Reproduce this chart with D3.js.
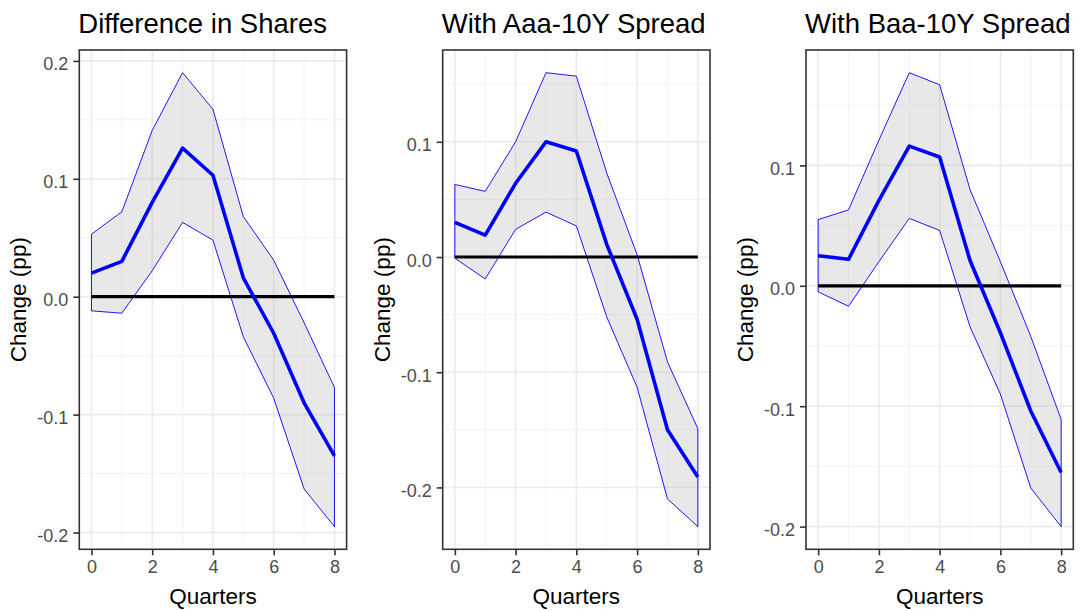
<!DOCTYPE html>
<html>
<head>
<meta charset="utf-8">
<script src="https://cdn.jsdelivr.net/npm/d3@7"></script>
<style>
  html, body { margin: 0; padding: 0; background: #fff; }
  svg { display: block; font-family: "Liberation Sans", Arial, sans-serif; }
</style>
</head>
<body>
<svg id="chart" width="1083" height="611"></svg>
<script>
// Impulse responses over 8 quarters, with confidence bands, for three specifications
const quarters = [0, 1, 2, 3, 4, 5, 6, 7, 8];
const xTicks = [0, 2, 4, 6, 8];

const titles = ["Difference in Shares", "With Aaa-10Y Spread", "With Baa-10Y Spread"];

const sharesMean  = [0.020, 0.030, 0.080, 0.126, 0.103, 0.016, -0.031, -0.090, -0.135];
const sharesUpper = [0.053, 0.072, 0.141, 0.190, 0.159, 0.068, 0.031, -0.022, -0.077];
const sharesLower = [-0.012, -0.014, 0.022, 0.063, 0.048, -0.034, -0.086, -0.163, -0.195];

const aaaMean  = [0.030, 0.019, 0.064, 0.100, 0.092, 0.011, -0.054, -0.150, -0.191];
const aaaUpper = [0.063, 0.057, 0.100, 0.160, 0.157, 0.073, 0.002, -0.091, -0.149];
const aaaLower = [-0.001, -0.019, 0.024, 0.039, 0.027, -0.052, -0.113, -0.210, -0.234];

const baaMean  = [0.025, 0.022, 0.071, 0.116, 0.107, 0.021, -0.039, -0.104, -0.155];
const baaUpper = [0.055, 0.063, 0.121, 0.177, 0.167, 0.080, 0.020, -0.042, -0.111];
const baaLower = [-0.005, -0.017, 0.020, 0.056, 0.046, -0.034, -0.090, -0.168, -0.200];

const yTicks = [
  [-0.2, -0.1, 0.0, 0.1, 0.2],
  [-0.2, -0.1, 0.0, 0.1],
  [-0.2, -0.1, 0.0, 0.1]
];

const panels = [
  { title: titles[0], mean: sharesMean, upper: sharesUpper, lower: sharesLower, ticks: yTicks[0] },
  { title: titles[1], mean: aaaMean,    upper: aaaUpper,    lower: aaaLower,    ticks: yTicks[1] },
  { title: titles[2], mean: baaMean,    upper: baaUpper,    lower: baaLower,    ticks: yTicks[2] }
];

// layout of the three plot panels
const panelLeft = [79.3, 442.7, 806];
const panelWidth = 267.3;
const panelTop = 50;
const panelBottom = 549.3;

const svg = d3.select("#chart");
const tickFont = 18, axisFont = 22.5, titleFont = 27.5;
const tickColor = "#4D4D4D";

panels.forEach((p, i) => {
  const x0 = panelLeft[i];
  const g = svg.append("g");

  // x scale with 5% expansion on each side
  const xPad = (d3.max(quarters) - d3.min(quarters)) * 0.05;
  const x = d3.scaleLinear()
    .domain([d3.min(quarters) - xPad, d3.max(quarters) + xPad])
    .range([x0, x0 + panelWidth]);

  const all = p.upper.concat(p.lower, p.mean, [0]);
  const lo = d3.min(all), hi = d3.max(all);
  const yPad = (hi - lo) * 0.05;
  const y = d3.scaleLinear()
    .domain([lo - yPad, hi + yPad])
    .range([panelBottom, panelTop]);

  // clip to the panel
  const clipId = "clip" + i;
  svg.append("clipPath").attr("id", clipId)
    .append("rect").attr("x", x0).attr("y", panelTop)
    .attr("width", panelWidth).attr("height", panelBottom - panelTop);

  const plot = g.append("g").attr("clip-path", `url(#${clipId})`);

  // minor grid
  const minorX = d3.range(1, 8, 2);
  const minorY = [];
  for (let k = 0; k < p.ticks.length - 1; k++) minorY.push((p.ticks[k] + p.ticks[k + 1]) / 2);
  const step = p.ticks[1] - p.ticks[0];
  minorY.push(p.ticks[0] - step / 2, p.ticks[p.ticks.length - 1] + step / 2);

  plot.selectAll(".minx").data(minorX).join("line")
    .attr("x1", d => x(d)).attr("x2", d => x(d))
    .attr("y1", panelTop).attr("y2", panelBottom)
    .attr("stroke", "#F2F2F2").attr("stroke-width", 0.9);
  plot.selectAll(".miny").data(minorY).join("line")
    .attr("y1", d => y(d)).attr("y2", d => y(d))
    .attr("x1", x0).attr("x2", x0 + panelWidth)
    .attr("stroke", "#F2F2F2").attr("stroke-width", 0.9);

  // major grid
  plot.selectAll(".majx").data(xTicks).join("line")
    .attr("x1", d => x(d)).attr("x2", d => x(d))
    .attr("y1", panelTop).attr("y2", panelBottom)
    .attr("stroke", "#EBEBEB").attr("stroke-width", 1.6);
  plot.selectAll(".majy").data(p.ticks).join("line")
    .attr("y1", d => y(d)).attr("y2", d => y(d))
    .attr("x1", x0).attr("x2", x0 + panelWidth)
    .attr("stroke", "#EBEBEB").attr("stroke-width", 1.6);

  // confidence band
  const band = quarters.map((q, k) => ({ q, lo: p.lower[k], hi: p.upper[k] }));
  const area = d3.area().x(d => x(d.q)).y0(d => y(d.lo)).y1(d => y(d.hi));
  plot.append("path").datum(band)
    .attr("d", area(band) + "Z")
    .attr("fill", "#B3B3B3").attr("fill-opacity", 0.3)
    .attr("stroke", "#0000FF").attr("stroke-width", 0.9)
    .attr("stroke-linejoin", "round");

  // zero line
  plot.append("line")
    .attr("x1", x(0)).attr("x2", x(8))
    .attr("y1", y(0)).attr("y2", y(0))
    .attr("stroke", "#000").attr("stroke-width", 3.2);

  // point estimate
  const line = d3.line().x((d, k) => x(quarters[k])).y(d => y(d));
  plot.append("path").datum(p.mean)
    .attr("d", line)
    .attr("fill", "none").attr("stroke", "#0000FF")
    .attr("stroke-width", 3.6).attr("stroke-linejoin", "round");

  // axes
  const xAxis = d3.axisBottom(x).tickValues(xTicks).tickFormat(d3.format("d")).tickSize(6).tickPadding(5);
  const gx = g.append("g").attr("transform", `translate(0,${panelBottom})`).call(xAxis);
  const yAxis = d3.axisLeft(y).tickValues(p.ticks).tickFormat(d => d.toFixed(1).replace("\u2212", "-")).tickSize(6).tickPadding(5);
  const gy = g.append("g").attr("transform", `translate(${x0},0)`).call(yAxis);
  [gx, gy].forEach(ax => {
    ax.select(".domain").remove();
    ax.selectAll(".tick line").attr("stroke", "#333333").attr("stroke-width", 1.6);
    ax.selectAll(".tick text").attr("fill", tickColor)
      .style("font-size", tickFont + "px").style("font-family", "'Liberation Sans', Arial, sans-serif");
  });
  gy.selectAll(".tick text").attr("dy", "0.5em");

  // panel border
  g.append("rect")
    .attr("x", x0).attr("y", panelTop)
    .attr("width", panelWidth).attr("height", panelBottom - panelTop)
    .attr("fill", "none").attr("stroke", "#333333").attr("stroke-width", 1.6);

  // titles
  g.append("text")
    .attr("x", x0 - 1).attr("y", 33)
    .style("font-size", titleFont + "px").attr("fill", "#000")
    .text(p.title);

  g.append("text")
    .attr("x", x0 + panelWidth / 2).attr("y", 604)
    .attr("text-anchor", "middle")
    .style("font-size", axisFont + "px").attr("fill", "#000")
    .text("Quarters");

  g.append("text")
    .attr("transform", `translate(${x0 - 53},${(panelTop + panelBottom) / 2}) rotate(-90)`)
    .attr("text-anchor", "middle")
    .style("font-size", axisFont + "px").attr("fill", "#000")
    .text("Change (pp)");
});
</script>
</body>
</html>
